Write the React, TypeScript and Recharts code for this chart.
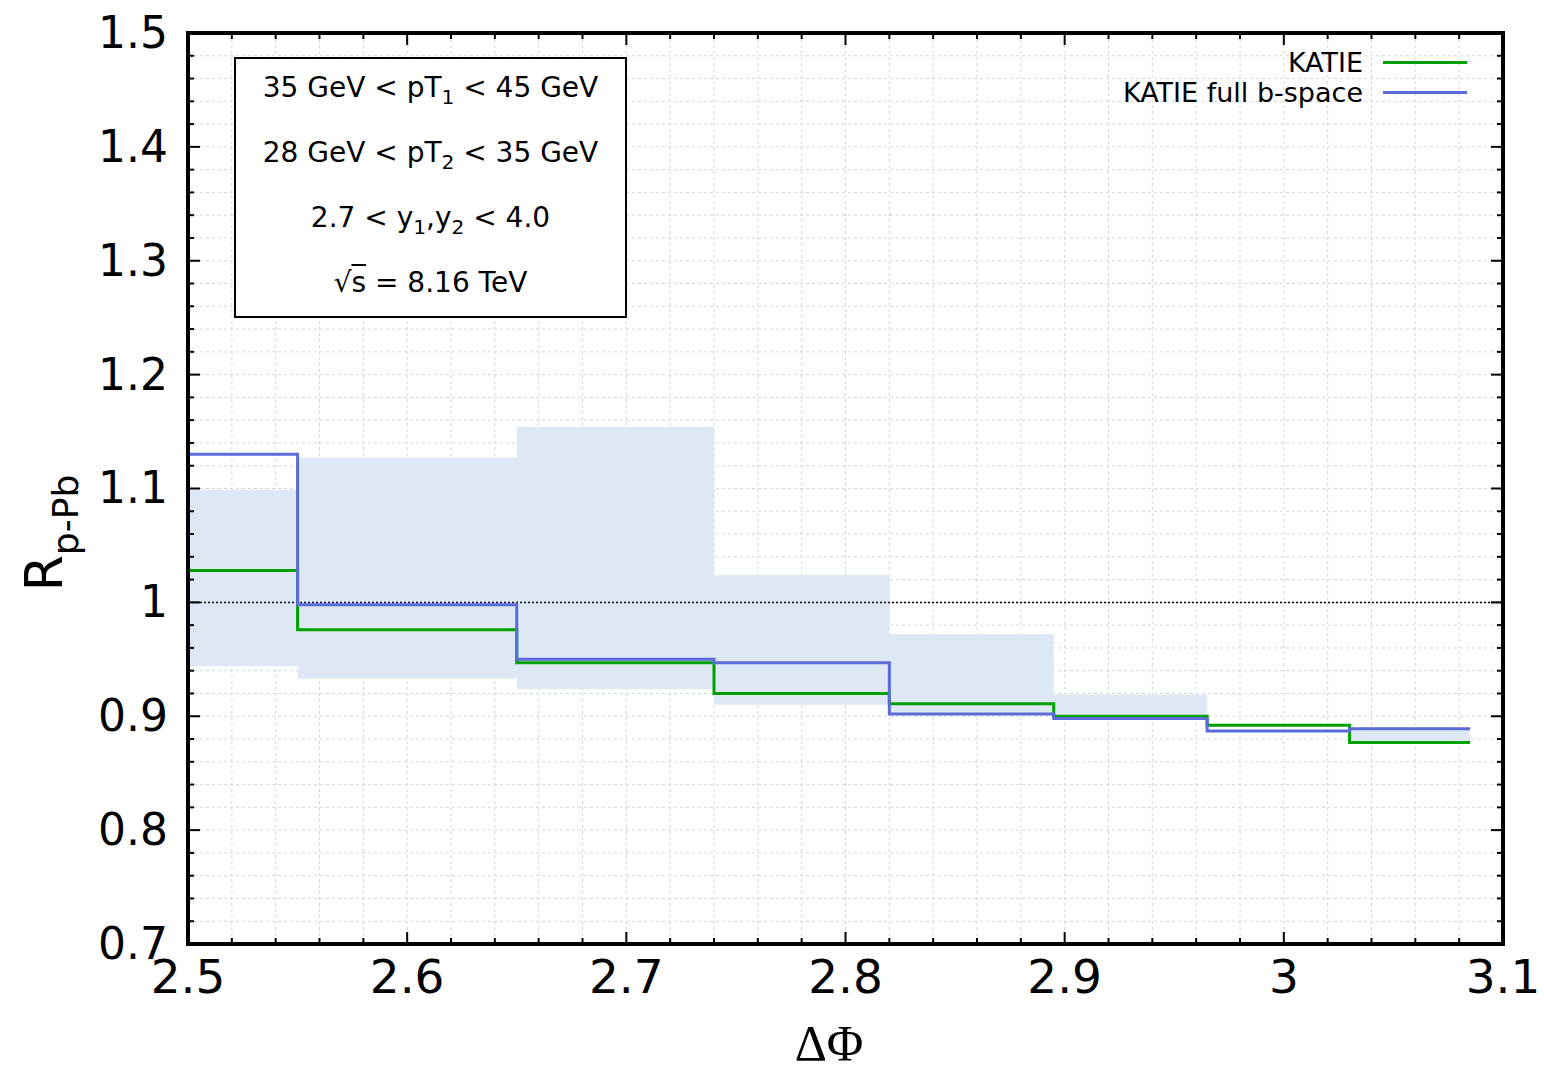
import { ComposedChart, Area, Line, XAxis, YAxis, CartesianGrid, ReferenceLine, Legend } from 'recharts';

// bin edges in delta phi and the values per bin
const edges = [2.5, 2.55, 2.65, 2.74, 2.82, 2.895, 2.965, 3.03, 3.085];
const katie = [1.028, 0.976, 0.947, 0.920, 0.911, 0.900, 0.892, 0.877];
const katieFullB = [1.130, 0.998, 0.950, 0.947, 0.902, 0.898, 0.887, 0.889];
const bandLow = [0.944, 0.933, 0.924, 0.910, 0.901, 0.899, 0.892, 0.877];
const bandHigh = [1.099, 1.127, 1.154, 1.024, 0.972, 0.919, 0.892, 0.889];

const xMajor = [2.5, 2.6, 2.7, 2.8, 2.9, 3, 3.1];
const yMajor = [0.7, 0.8, 0.9, 1, 1.1, 1.2, 1.3, 1.4, 1.5];
const xTicks = Array.from({ length: 31 }, (_, i) => +(2.5 + i * 0.02).toFixed(2));
const yTicks = Array.from({ length: 41 }, (_, i) => +(0.7 + i * 0.02).toFixed(2));

// step data: last edge repeats the last bin so the step closes
const rows = edges.map((x, i) => {
  const j = Math.min(i, katie.length - 1);
  return { x, katie: katie[j], full: katieFullB[j], band: [bandLow[j], bandHigh[j]] };
});

const FONT = 'DejaVu Sans';
const tickStroke = { stroke: '#000', strokeWidth: 2 };
const frame = { stroke: '#000', strokeWidth: 4, strokeLinecap: 'square' as const };

function BottomTick(props: any) {
  const { x, y, payload } = props;
  const major = xMajor.includes(payload.value);
  return (
    <g>
      <line x1={x} x2={x} y1={y} y2={y - (major ? 12 : 6)} {...tickStroke} />
      {major && (
        <text x={x} y={y + 49} textAnchor="middle" fontSize={47} fontFamily={FONT} fill="#000">
          {String(payload.value)}
        </text>
      )}
    </g>
  );
}

function TopTick(props: any) {
  const { x, y, payload } = props;
  const major = xMajor.includes(payload.value);
  return <line x1={x} x2={x} y1={y} y2={y + (major ? 12 : 6)} {...tickStroke} />;
}

function LeftTick(props: any) {
  const { x, y, payload } = props;
  const major = yMajor.includes(payload.value);
  return (
    <g>
      <line x1={x} x2={x + (major ? 12 : 6)} y1={y} y2={y} {...tickStroke} />
      {major && (
        <text x={x - 20} y={y} dy="0.34em" textAnchor="end" fontSize={44} fontFamily={FONT} fill="#000">
          {String(payload.value)}
        </text>
      )}
    </g>
  );
}

function RightTick(props: any) {
  const { x, y, payload } = props;
  const major = yMajor.includes(payload.value);
  return <line x1={x} x2={x - (major ? 12 : 6)} y1={y} y2={y} {...tickStroke} />;
}

function LegendContent(props: any) {
  const items = (props.payload || []).filter((p: any) => p.type !== 'none');
  return (
    <div>
      {items.map((p: any) => (
        <div key={p.value} style={{ display: 'flex', alignItems: 'center', justifyContent: 'flex-end', height: 30 }}>
          <span style={{ fontSize: 27, fontFamily: FONT, color: '#000' }}>{p.value}</span>
          <span style={{ display: 'inline-block', width: 84, height: 3, background: p.color, marginLeft: 20 }} />
        </div>
      ))}
    </div>
  );
}

const sub = { fontSize: '0.72em', verticalAlign: '-0.35em', lineHeight: 0 };
const boxLine = { height: 65, lineHeight: '65px' };

export default function App() {
  return (
    <div style={{ position: 'absolute', left: 0, top: 0, width: 1544, height: 1072, background: '#fff' }}>
      <ComposedChart width={1544} height={1072} data={rows} margin={{ top: 32, right: 40, bottom: 127, left: 187 }}>
        <CartesianGrid stroke="#d6d6d6" strokeDasharray="3 3" strokeWidth={1} />
        <XAxis
          type="number"
          dataKey="x"
          domain={[2.5, 3.1]}
          allowDataOverflow
          ticks={xTicks}
          interval={0}
          height={1}
          tickSize={0}
          tickMargin={0}
          tickLine={false}
          axisLine={frame}
          tick={<BottomTick />}
          label={{
            content: () => (
              <text x={829} y={1060} textAnchor="middle" fontSize={50} fontFamily="Liberation Serif" fill="#000">
                ΔΦ
              </text>
            ),
          }}
        />
        <XAxis
          xAxisId="top"
          orientation="top"
          type="number"
          dataKey="x"
          domain={[2.5, 3.1]}
          allowDataOverflow
          ticks={xTicks}
          interval={0}
          height={1}
          tickSize={0}
          tickMargin={0}
          tickLine={false}
          axisLine={frame}
          tick={<TopTick />}
        />
        <YAxis
          type="number"
          domain={[0.7, 1.5]}
          allowDataOverflow
          ticks={yTicks}
          interval={0}
          width={1}
          tickSize={0}
          tickMargin={0}
          tickLine={false}
          axisLine={frame}
          tick={<LeftTick />}
          label={{
            content: () => (
              <text transform="translate(62,533) rotate(-90)" textAnchor="middle" fontFamily={FONT} fill="#000">
                <tspan fontSize={52}>R</tspan>
                <tspan fontSize={36} dy={16}>p-Pb</tspan>
              </text>
            ),
          }}
        />
        <YAxis
          yAxisId="right"
          orientation="right"
          type="number"
          domain={[0.7, 1.5]}
          allowDataOverflow
          ticks={yTicks}
          interval={0}
          width={1}
          tickSize={0}
          tickMargin={0}
          tickLine={false}
          axisLine={frame}
          tick={<RightTick />}
        />
        <Area
          type="stepAfter"
          dataKey="band"
          fill="#dde8f4"
          fillOpacity={1}
          stroke="none"
          legendType="none"
          isAnimationActive={false}
        />
        <ReferenceLine y={1} stroke="#000" strokeWidth={1.5} strokeDasharray="2 2" />
        <Line
          type="stepAfter"
          dataKey="katie"
          name="KATIE"
          stroke="#00a000"
          strokeWidth={3}
          dot={false}
          isAnimationActive={false}
        />
        <Line
          type="stepAfter"
          dataKey="full"
          name="KATIE full b-space"
          stroke="#5b6bd8"
          strokeWidth={3}
          dot={false}
          isAnimationActive={false}
        />
        <Legend
          layout="vertical"
          align="center"
          verticalAlign="middle"
          content={<LegendContent />}
          wrapperStyle={{ position: 'absolute', top: 47, right: 77, left: 'auto', width: 'auto' }}
        />
      </ComposedChart>
      <div
        style={{
          position: 'absolute',
          left: 234,
          top: 57,
          width: 393,
          height: 261,
          boxSizing: 'border-box',
          border: '2px solid #000',
          background: '#fff',
          fontFamily: FONT,
          fontSize: 28,
          color: '#000',
          textAlign: 'center',
          paddingTop: 0,
        }}
      >
        <div style={{ ...boxLine, marginTop: -4 }}>
          35 GeV &lt; pT<span style={sub}>1</span> &lt; 45 GeV
        </div>
        <div style={boxLine}>
          28 GeV &lt; pT<span style={sub}>2</span> &lt; 35 GeV
        </div>
        <div style={boxLine}>
          2.7 &lt; y<span style={sub}>1</span>,y<span style={sub}>2</span> &lt; 4.0
        </div>
        <div style={boxLine}>
          √<span style={{ textDecoration: 'overline' }}>s</span> = 8.16 TeV
        </div>
      </div>
    </div>
  );
}
